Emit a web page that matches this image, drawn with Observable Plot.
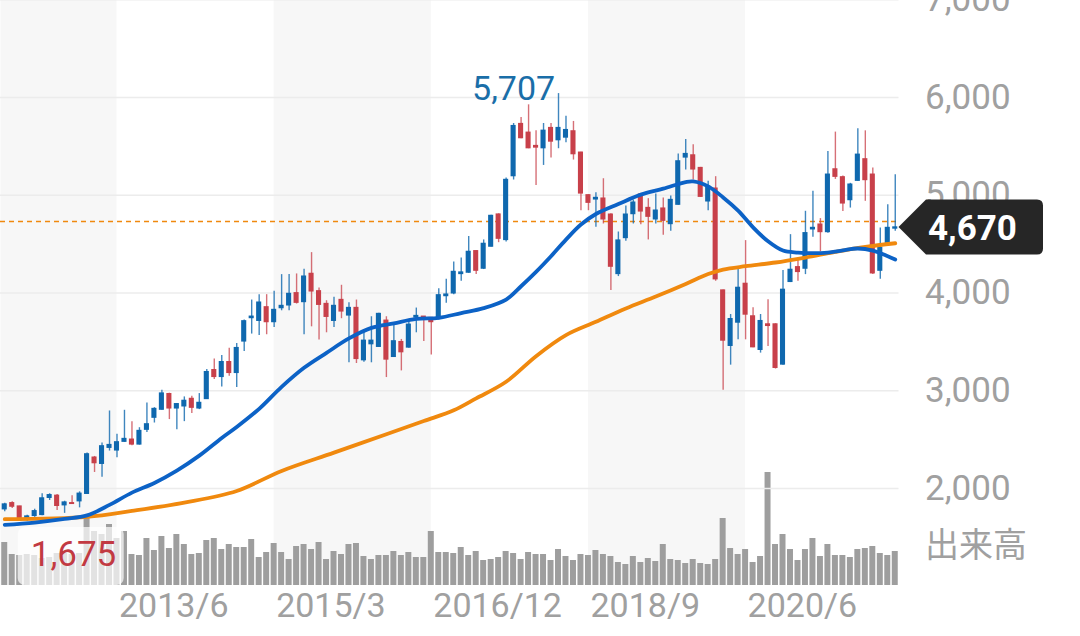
<!DOCTYPE html>
<html><head><meta charset="utf-8">
<script src="https://cdn.jsdelivr.net/npm/d3@7"></script>
<script src="https://cdn.jsdelivr.net/npm/@observablehq/plot@0.6"></script>
<style>
html,body{margin:0;padding:0;background:#fff;}
#wrap{position:relative;width:1080px;height:636px;overflow:hidden;}
#wrap svg{position:absolute;left:0;top:0;}
</style></head><body><div id="wrap"></div>
<script>
// ---- data (monthly, from 2012/3) ----
const firstMonth = {year: 2012, month: 3};
const opens  = [1788,1849,1815,1680,1720,1730,1905,1925,1829,1849,1870,1946,2315,2253,2417,2390,2479,2499,2451,2602,2725,2807,2965,2820,2841,2916,2820,2916,3210,3142,3292,3183,3505,3744,3716,3853,3703,3846,3874,3997,3908,4195,4017,3887,3716,3928,3771,3846,3313,3477,3450,3716,3347,3497,3443,3750,3757,3744,3737,3969,3997,4195,4209,4427,4250,4475,4802,4543,5196,5728,5639,5503,5482,5687,5564,5591,5653,5435,4999,4958,4965,4801,4195,4563,4808,5006,4869,4754,4863,4706,4904,5387,5407,5278,4938,5067,4025,3460,3698,4093,3760,3419,3678,3678,3269,4114,4263,4250,4652,4699,4624,5264,5183,4951,5149,5367,5210,4229,4515,4660];
const highs  = [1849,1864,1818,1726,1788,1946,1946,1938,1870,1925,1966,2362,2328,2465,2793,2554,2800,2684,2622,2875,2827,3005,2975,2870,2937,2944,2971,3217,3326,3361,3436,3484,3723,3928,3983,3983,4017,4188,4188,4195,4243,4413,4051,3921,3956,4079,3901,3928,3607,3757,3792,3757,3668,3525,3723,3846,3760,3750,4044,4140,4318,4359,4577,4435,4543,4795,4810,5176,5734,5796,5925,5659,5734,5734,6040,5809,5755,5440,5005,5026,5169,4810,4624,4890,4951,5010,4965,5013,4972,4992,5421,5571,5516,5285,5142,5190,4030,3780,4257,4536,3848,3780,3930,3685,4229,4597,4359,4836,5040,4761,5448,5646,5196,5122,5680,5659,5278,4665,4904,5210];
const lows   = [1761,1795,1662,1665,1705,1722,1877,1774,1746,1843,1802,1938,2164,2116,2383,2315,2472,2438,2444,2574,2670,2800,2705,2602,2684,2766,2807,2910,3115,3039,3149,3033,3402,3580,3566,3573,3648,3818,3818,3887,3573,3654,3518,3593,3648,3737,3286,3279,3292,3286,3445,3135,3340,3203,3436,3593,3505,3367,3723,3894,3983,4120,4202,4188,4240,4470,4515,4522,5156,5578,5476,5101,5305,5380,5476,5537,5360,4842,4842,4672,4706,4025,4168,4529,4706,4699,4543,4706,4590,4631,4897,5258,5156,4980,4842,4120,3004,3262,3521,3521,3439,3385,3453,3222,3262,4107,4120,4188,4570,4420,4611,5162,4835,4869,5142,4938,4188,4141,4488,4631];
const closes = [1836,1815,1675,1713,1767,1898,1931,1823,1856,1843,1946,2349,2260,2431,2444,2472,2506,2451,2588,2656,2813,2971,2820,2862,2896,2827,2875,3190,3142,3292,3183,3436,3710,3757,3901,3703,3826,3867,3990,3901,4167,4017,3880,3757,3867,3812,3846,3326,3511,3511,3785,3320,3505,3395,3675,3764,3744,3703,3976,3983,4215,4209,4420,4229,4502,4788,4556,5156,5707,5585,5482,5489,5659,5550,5687,5666,5421,5019,4924,4972,4754,4270,4536,4801,4924,4835,4781,4842,4740,4951,5346,5421,5265,4985,5087,4141,3514,3732,4052,3780,3446,3712,3664,3235,4032,4236,4216,4611,4665,4624,5210,5190,4917,5108,5414,5156,4202,4461,4665,4670];
const volumes = [43,31,30,31,30,27,28,32,32,31,32,70,54,51,61,47,54,31,30,47,35,49,37,51,41,31,32,45,47,36,41,38,38,46,28,33,42,33,26,39,41,36,43,26,34,31,41,42,29,26,30,30,34,30,33,28,28,54,33,33,32,38,30,34,25,26,28,34,32,26,33,31,31,25,36,29,25,31,30,35,31,29,23,21,29,23,27,24,41,26,25,22,26,22,21,26,67,37,31,36,23,29,113,41,51,36,25,36,47,29,41,30,30,28,36,37,39,32,30,34];
// moving averages (month index -> price)
const maShortIdx = [0,4,8,11,14,17,20,23,26,29,31,34,37,40,43,46,49,52,55,58,61,64,67,69,71,73,75,77,79,82,85,88,91,92,94,96,98,100,102,104,106,108,110,112,114,116,118,119];
const maShortVal = [1628,1652,1689,1725,1832,1958,2057,2183,2336,2517,2629,2815,3040,3235,3388,3535,3643,3690,3735,3746,3795,3845,3933,4069,4216,4376,4546,4700,4808,4910,5006,5067,5135,5142,5091,4978,4843,4672,4529,4434,4414,4407,4414,4437,4455,4434,4376,4342];
const maLongIdx = [0,11,17,24,31,37,44,51,56,60,63,67,71,75,79,83,87,91,94,96,99,103,107,111,115,119];
const maLongVal = [1686,1710,1771,1856,1975,2180,2367,2555,2690,2800,2922,3092,3354,3569,3705,3842,3964,4093,4195,4240,4274,4312,4363,4420,4471,4509];
const tickLabels = ["2013/6","2015/3","2016/12","2018/9","2020/6"];
const yTicks = [2000,3000,4000,5000,6000,7000];
const currentPrice = 4670;
const volumeLabel = "出来高";

// ---- derived ----
const N = closes.length;
const months = closes.map((_, i) => {
  const m = firstMonth.month - 1 + i;
  return `${firstMonth.year + Math.floor(m / 12)}/${(m % 12) + 1}`;
});
const data = closes.map((c, i) => ({i, month: months[i], open: opens[i], high: highs[i], low: lows[i], close: c, volume: volumes[i], up: c >= opens[i]}));
const upData = data.filter(d => d.up), downData = data.filter(d => !d.up);
const maShort = maShortIdx.map((i, k) => ({i, v: maShortVal[k]}));
const maLong = maLongIdx.map((i, k) => ({i, v: maLongVal[k]}));
const tickIdx = tickLabels.map(t => months.indexOf(t));
const edges = [-0.5, ...tickIdx, N - 0.5];
const bands = edges.slice(0, -1).map((e, k) => ({x1: e, x2: edges[k + 1], shade: k % 2 === 0})).filter(b => b.shade);
const iMax = d3.maxIndex(closes), iMin = d3.minIndex(closes);
const fmt = d3.format(",");

const UP = "#0f68ae", DOWN = "#c8404a", BLUE = "#0c62c6", ORANGE = "#f0890e", GREY = "#a0a0a0";
const FONT = "Roboto, 'Noto Sans CJK JP', sans-serif";
const X = {type: "linear", domain: [-0.5, N - 0.5], range: [0.5, 898.5], axis: null};
const common = {width: 1080, height: 636, marginTop: 0, marginBottom: 51, marginLeft: 0, marginRight: 181.5};

const volPlot = Plot.plot({
  ...common,
  style: {background: "#fff"},
  x: X,
  y: {domain: [0, 120], range: [585, 465], axis: null},
  marks: [
    Plot.rect(bands, {x1: "x1", x2: "x2", fill: "#f7f7f7"}),
    Plot.rect(data, {x1: d => d.i - 0.4, x2: d => d.i + 0.4, y1: 0, y2: "volume", fill: "#9e9e9e"})
  ]
});

const lowBox = (index, scales, values, dim) => {
  const g = d3.create("svg:g");
  const bottom = dim.height - dim.marginBottom;
  g.append("rect").attr("x", scales.x(iMin) - 1.5).attr("y", bottom - 58)
    .attr("width", 106).attr("height", 58).attr("rx", 7)
    .attr("fill", "#fff").attr("fill-opacity", 0.7);
  return g.node();
};
const priceTag = (index, scales, values, dim) => {
  const g = d3.create("svg:g");
  const yc = scales.y(currentPrice), xt = dim.width - dim.marginRight, h = 27.5, xr = 1043, r = 6;
  g.append("path").attr("fill", "#262626").attr("d",
    `M${xt},${yc}L${xt + h},${yc - h}H${xr - r}Q${xr},${yc - h} ${xr},${yc - h + r}V${yc + h - r}Q${xr},${yc + h} ${xr - r},${yc + h}H${xt + h}Z`);
  g.append("text").attr("x", xt + 29.5).attr("y", yc).attr("dy", "0.36em")
    .attr("text-anchor", "start")
    .attr("fill", "#fff").attr("font-weight", "bold").attr("font-size", 35).attr("font-family", FONT)
    .text(fmt(currentPrice));
  return g.node();
};

const pricePlot = Plot.plot({
  ...common,
  style: {background: "transparent", fontFamily: FONT},
  x: X,
  y: {domain: [2000, 6000], range: [488, 97], axis: null},
  marks: [
    Plot.ruleY(yTicks, {stroke: "#ececec", strokeWidth: 1.5}),
    Plot.ruleY([currentPrice], {stroke: ORANGE, strokeWidth: 1.6, strokeDasharray: "5,4", dy: -6}),
    Plot.ruleX(upData, {x: "i", y1: "low", y2: "high", stroke: UP, strokeWidth: 1.4, strokeOpacity: 0.8}),
    Plot.ruleX(downData, {x: "i", y1: "low", y2: "high", stroke: DOWN, strokeWidth: 1.4, strokeOpacity: 0.75}),
    Plot.rect(upData, {x1: d => d.i - 0.34, x2: d => d.i + 0.34, y1: "open", y2: "close", fill: UP, insetTop: -0.7, insetBottom: -0.7}),
    Plot.rect(downData, {x1: d => d.i - 0.34, x2: d => d.i + 0.34, y1: "open", y2: "close", fill: DOWN, insetTop: -0.7, insetBottom: -0.7}),
    Plot.line(maLong, {x: "i", y: "v", stroke: ORANGE, strokeWidth: 3.8, curve: "catmull-rom"}),
    Plot.line(maShort, {x: "i", y: "v", stroke: BLUE, strokeWidth: 3.8, curve: "catmull-rom"}),
    Plot.text(yTicks, {y: d => d, frameAnchor: "right", dx: 26, textAnchor: "start", lineAnchor: "middle", text: d => fmt(d), fill: GREY, fontSize: 35}),
    Plot.text(tickIdx, {x: d => d, frameAnchor: "bottom", dy: 21, dx: 2, textAnchor: "start", lineAnchor: "middle", text: (d, k) => tickLabels[k], fill: GREY, fontSize: 34}),
    Plot.text([volumeLabel], {frameAnchor: "bottom-right", dx: 26, dy: -39, textAnchor: "start", lineAnchor: "middle", text: d => d, fill: GREY, fontSize: 34}),
    Plot.text([data[iMax]], {x: "i", y: "close", dy: -37, lineAnchor: "middle", text: d => fmt(d.close), fill: "#1a6ea8", fontSize: 34}),
    lowBox,
    Plot.text([data[iMin]], {x: "i", frameAnchor: "bottom", dx: 11, dy: -31, textAnchor: "start", lineAnchor: "middle", text: d => fmt(d.close), fill: "#c23a42", fontSize: 35}),
    priceTag
  ]
});

const wrap = document.getElementById("wrap");
wrap.appendChild(volPlot);
wrap.appendChild(pricePlot);
</script></body></html>
